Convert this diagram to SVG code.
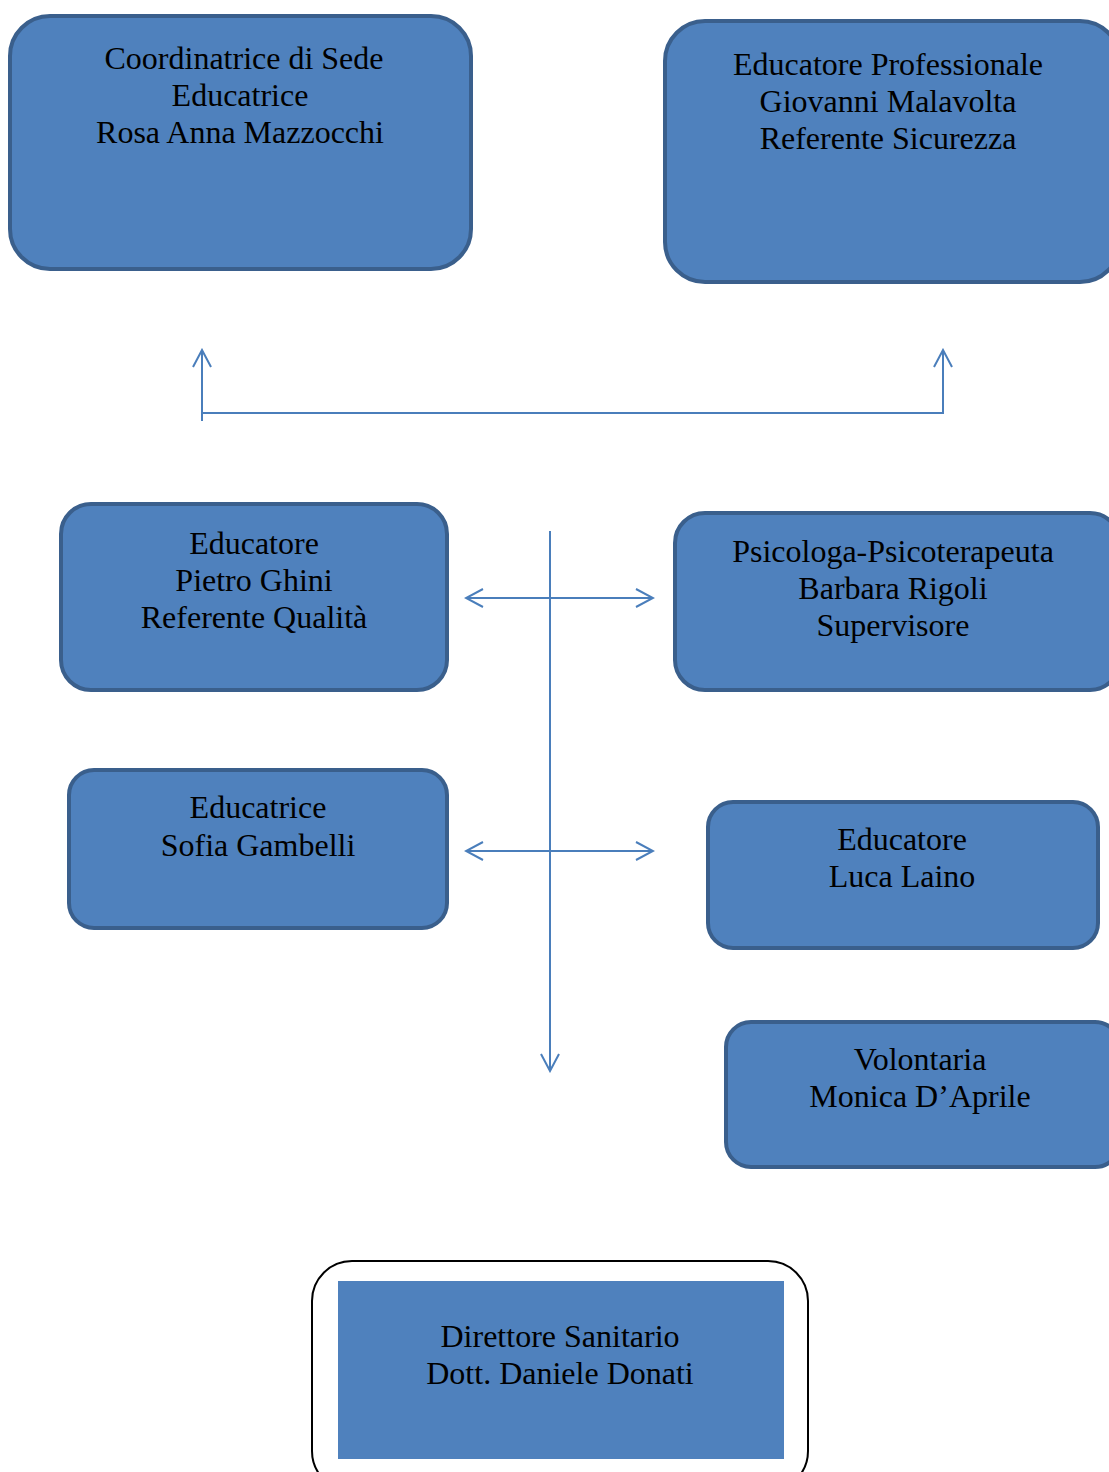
<svg xmlns="http://www.w3.org/2000/svg" width="1109" height="1472" viewBox="0 0 1109 1472">
<style>
.box{fill:#4F81BD;stroke:#3A5F8C;stroke-width:4}
.t{font-family:"Liberation Serif","Times New Roman",serif;font-size:32px;fill:#000;text-anchor:middle}
.c{fill:none;stroke:#4A7EBB;stroke-width:2}
</style>
<defs>
<marker id="ah" viewBox="0 0 20 20" refX="18" refY="10" markerWidth="20" markerHeight="20" markerUnits="userSpaceOnUse" orient="auto-start-reverse">
<path d="M1 1 L18 10 L1 19" fill="none" stroke="#4A7EBB" stroke-width="2"/>
</marker>
</defs>
<rect width="1109" height="1472" fill="#fff"/>
<g id="n1"><rect class="box" x="10" y="16" width="461" height="253" rx="40"/>
<text class="t" x="244" y="69">Coordinatrice di Sede</text>
<text class="t" x="240" y="106">Educatrice</text>
<text class="t" x="240" y="143">Rosa Anna Mazzocchi</text></g>
<g id="n2"><rect class="box" x="665" y="21" width="455" height="261" rx="40"/>
<text class="t" x="888" y="75">Educatore Professionale</text>
<text class="t" x="888" y="112">Giovanni Malavolta</text>
<text class="t" x="888" y="149">Referente Sicurezza</text></g>
<g id="n3"><rect class="box" x="61" y="504" width="386" height="186" rx="30"/>
<text class="t" x="254" y="554">Educatore</text>
<text class="t" x="254" y="591">Pietro Ghini</text>
<text class="t" x="254" y="628">Referente Qualità</text></g>
<g id="n4"><rect class="box" x="675" y="513" width="445" height="177" rx="30"/>
<text class="t" x="893" y="562">Psicologa-Psicoterapeuta</text>
<text class="t" x="893" y="599">Barbara Rigoli</text>
<text class="t" x="893" y="636">Supervisore</text></g>
<g id="n5"><rect class="box" x="69" y="770" width="378" height="158" rx="25"/>
<text class="t" x="258" y="818">Educatrice</text>
<text class="t" x="258" y="856">Sofia Gambelli</text></g>
<g id="n6"><rect class="box" x="708" y="802" width="390" height="146" rx="25"/>
<text class="t" x="902" y="850">Educatore</text>
<text class="t" x="902" y="887">Luca Laino</text></g>
<g id="n7"><rect class="box" x="726" y="1022" width="394" height="145" rx="25"/>
<text class="t" x="920" y="1070">Volontaria</text>
<text class="t" x="920" y="1107">Monica D’Aprile</text></g>
<g id="n8"><rect x="312" y="1261" width="496" height="230" rx="40" fill="#fff" stroke="#000" stroke-width="2"/>
<rect x="338" y="1281" width="446" height="178" fill="#4F81BD"/>
<text class="t" x="560" y="1347">Direttore Sanitario</text>
<text class="t" x="560" y="1384">Dott. Daniele Donati</text></g>
<g id="connectors">
<path class="c" d="M202 421 V350" marker-end="url(#ah)"/>
<path class="c" d="M202 413 H943 V350" marker-end="url(#ah)"/>
<path class="c" d="M550 531 V1071" marker-end="url(#ah)"/>
<path class="c" d="M466 598 H653" marker-start="url(#ah)" marker-end="url(#ah)"/>
<path class="c" d="M466 851 H653" marker-start="url(#ah)" marker-end="url(#ah)"/>
</g>
</svg>
